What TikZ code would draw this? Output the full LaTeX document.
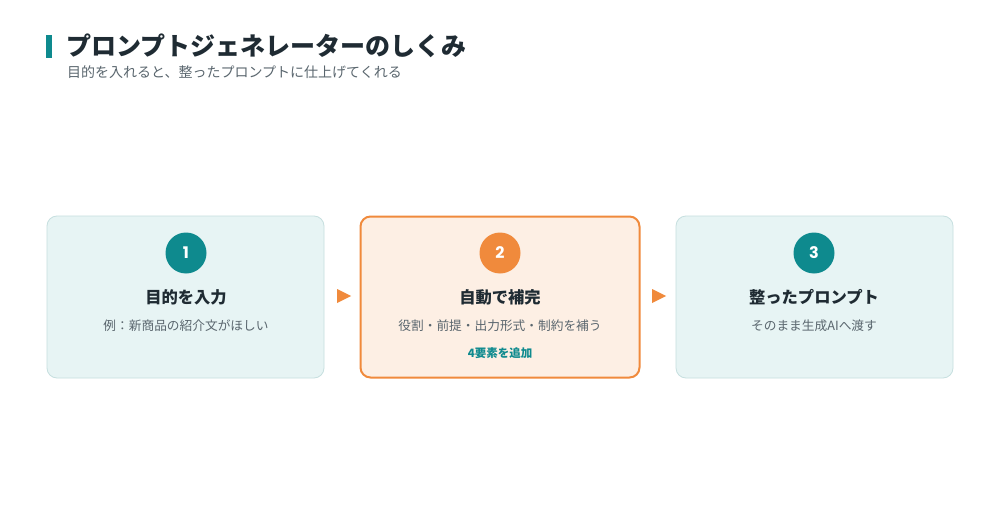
\documentclass[tikz,border=0pt]{standalone}
\usepackage{fontspec}
\setmainfont{Noto Sans CJK JP}
\newfontfamily\numfont{Poppins}
\usetikzlibrary{positioning}
\definecolor{teal1}{HTML}{0E8A8E}
\definecolor{orange1}{HTML}{F08A3C}
\definecolor{tealfill}{HTML}{E7F4F4}
\definecolor{tealline}{HTML}{C6DFDF}
\definecolor{orangefill}{HTML}{FDEFE4}
\definecolor{darktext}{HTML}{1F2B33}
\definecolor{graytext}{HTML}{5A666E}
\tikzset{
  x=1pt,y=1pt,
  card/.style={draw=tealline, fill=tealfill, line width=0.8pt, rounded corners=10pt, minimum width=277pt, minimum height=162pt, inner sep=0pt},
  cardhot/.style={draw=orange1, fill=orangefill, line width=2pt, rounded corners=10pt, minimum width=279pt, minimum height=161pt, inner sep=0pt},
  numdot/.style={circle, fill=#1, minimum size=41pt, inner sep=0pt, text=white, font=\numfont\bfseries\fontsize{16}{16}\selectfont},
  heading/.style={text=darktext, font=\bfseries\fontsize{16.3}{17}\selectfont, inner sep=0pt},
  desc/.style={text=graytext, font=\fontsize{12.7}{13}\selectfont, inner sep=0pt},
  tag/.style={text=teal1, font=\bfseries\fontsize{11.5}{12}\selectfont, inner sep=0pt},
  flowarrow/.style={fill=orange1, draw=none},
}
\begin{document}
\begin{tikzpicture}
\useasboundingbox (0,0) rectangle (1000,523);
\fill[white] (0,0) rectangle (1000,523);
% title
\fill[teal1] (46,523-35) rectangle (52,523-58);
\node[anchor=west, text=darktext, font=\bfseries\fontsize{25}{26}\selectfont, inner sep=0pt] (title) at (66,523-46) {プロンプトジェネレーターのしくみ};
\node[anchor=west, text=graytext, font=\fontsize{14}{15}\selectfont, inner sep=0pt] (subtitle) at (67,523-72) {目的を入れると、整ったプロンプトに仕上げてくれる};
% cards
\node[card] (c1) at (185.5,523-297) {};
\node[cardhot] (c2) at (500,523-297) {};
\node[card] (c3) at (814.5,523-297) {};
% circles
\node[numdot=teal1] (n1) at (186,523-253) {1};
\node[numdot=orange1] (n2) at (500,523-253) {2};
\node[numdot=teal1] (n3) at (814,523-253) {3};
% headings
\node[heading] (h1) at (186,523-297) {目的を入力};
\node[heading] (h2) at (500,523-297) {自動で補完};
\node[heading] (h3) at (814,523-297) {整ったプロンプト};
% descriptions
\node[desc] (d1) at (186,523-326) {例：新商品の紹介文がほしい};
\node[desc] (d2) at (500,523-326) {役割・前提・出力形式・制約を補う};
\node[desc] (d3) at (814,523-326) {そのまま生成AIへ渡す};
\node[tag] (t2) at (500,523-353) {4要素を追加};
% arrows
\fill[flowarrow] (337,523-289) -- (351,523-296) -- (337,523-303) -- cycle;
\fill[flowarrow] (652,523-289) -- (666,523-296) -- (652,523-303) -- cycle;
\end{tikzpicture}
\end{document}
